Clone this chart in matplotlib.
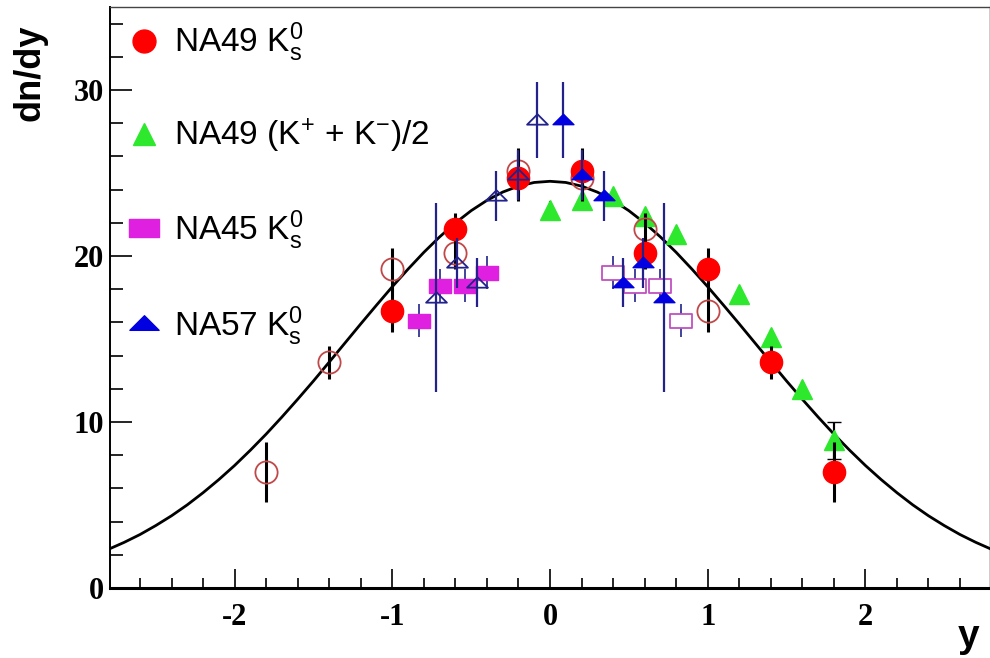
import numpy as np
import matplotlib
matplotlib.use("Agg")
import matplotlib.pyplot as plt
from matplotlib.lines import Line2D
from matplotlib.path import Path
from matplotlib.ticker import MultipleLocator

plt.rcParams["font.family"] = ["Liberation Sans", "DejaVu Sans"]
plt.rcParams["mathtext.fontset"] = "custom"
plt.rcParams["mathtext.rm"] = "Liberation Sans"
plt.rcParams["mathtext.default"] = "regular"
plt.rcParams["axes.unicode_minus"] = False

# NA49 K0s (filled) and reflected points (open)
na49_k0_y = [-1.0, -0.6, -0.2, 0.2, 0.6, 1.0, 1.4, 1.8]
na49_k0_dndy = [16.7, 21.6, 24.7, 25.1, 20.2, 19.2, 13.6, 7.0]
na49_k0_err = [1.3, 1.0, 1.4, 1.4, 1.0, 1.3, 1.0, 1.8]
na49_k0_refl_y = [-1.8, -1.4, -1.0, -0.6, -0.2, 0.2, 0.6, 1.0]
na49_k0_refl_dndy = [7.0, 13.6, 19.2, 20.2, 25.1, 24.7, 21.6, 16.7]
na49_k0_refl_err = [1.8, 1.0, 1.3, 1.0, 1.4, 1.4, 1.0, 1.3]

# NA49 (K+ + K-)/2
na49_kch_y = [0.0, 0.2, 0.4, 0.6, 0.8, 1.2, 1.4, 1.6, 1.8]
na49_kch_dndy = [22.8, 23.4, 23.6, 22.4, 21.3, 17.7, 15.1, 12.0, 8.9]
na49_kch_err = [0.5, 0.5, 0.5, 0.5, 0.5, 0.5, 0.5, 0.5, 1.1]

# NA45 K0s
na45_y = [-0.83, -0.70, -0.54, -0.40]
na45_dndy = [16.1, 18.2, 18.2, 19.0]
na45_err = [1.0, 1.0, 1.0, 1.0]
na45_refl_y = [0.40, 0.54, 0.70, 0.83]
na45_refl_dndy = [19.0, 18.2, 18.2, 16.1]
na45_refl_err = [1.0, 1.0, 1.0, 1.0]

# NA57 K0s
na57_y = [0.08, 0.20, 0.34, 0.46, 0.59, 0.72]
na57_dndy = [28.2, 24.9, 23.6, 18.4, 19.6, 17.5]
na57_err = [2.3, 1.5, 1.5, 1.5, 1.5, 5.7]
na57_refl_y = [-0.72, -0.59, -0.46, -0.34, -0.20, -0.08]
na57_refl_dndy = [17.5, 19.6, 18.4, 23.6, 24.9, 28.2]
na57_refl_err = [5.7, 1.5, 1.5, 1.5, 1.5, 2.3]

# gaussian fit curve
fit_y = [-2.8, -2.7, -2.6, -2.5, -2.4, -2.3, -2.2, -2.1, -2.0, -1.9, -1.8, -1.7,
         -1.6, -1.5, -1.4, -1.3, -1.2, -1.1, -1.0, -0.9, -0.8, -0.7, -0.6, -0.5,
         -0.4, -0.3, -0.2, -0.1, 0.0, 0.1, 0.2, 0.3, 0.4, 0.5, 0.6, 0.7, 0.8,
         0.9, 1.0, 1.1, 1.2, 1.3, 1.4, 1.5, 1.6, 1.7, 1.8, 1.9, 2.0, 2.1, 2.2,
         2.3, 2.4, 2.5, 2.6, 2.7, 2.8]
fit_dndy = [2.33, 2.75, 3.22, 3.76, 4.35, 5.01, 5.74, 6.53, 7.38, 8.30, 9.27, 10.30,
            11.37, 12.47, 13.61, 14.76, 15.91, 17.04, 18.15, 19.21, 20.22, 21.15, 21.99, 22.73,
            23.35, 23.85, 24.21, 24.43, 24.50, 24.43, 24.21, 23.85, 23.35, 22.73, 21.99, 21.15, 20.22,
            19.21, 18.15, 17.04, 15.91, 14.76, 13.61, 12.47, 11.37, 10.30, 9.27, 8.30, 7.38, 6.53, 5.74,
            5.01, 4.35, 3.76, 3.22, 2.75, 2.33]

RED = "#ff0000"
RED_OPEN = "#c04848"
GREEN = "#2ee82e"
MAGENTA = "#e020e0"
MAGENTA_OPEN = "#c050c0"
BLUE = "#0000e0"
NAVY = "#22228a"

rect = Path([(-1, -0.6), (1, -0.6), (1, 0.6), (-1, 0.6), (-1, -0.6)],
            [Path.MOVETO, Path.LINETO, Path.LINETO, Path.LINETO, Path.CLOSEPOLY])
flat_tri = Path([(-1, -0.4), (1, -0.4), (0, 0.6), (-1, -0.4)],
                [Path.MOVETO, Path.LINETO, Path.LINETO, Path.CLOSEPOLY])

fig = plt.figure(figsize=(9.9, 6.58), dpi=100)
ax = fig.add_axes([110 / 990, 70 / 658, 880 / 990, 581 / 658])

ax.plot(fit_y, fit_dndy, color="black", lw=2.0, zorder=2)

ax.errorbar(na49_kch_y, na49_kch_dndy, yerr=na49_kch_err, fmt="^", ms=15,
            color=GREEN, mec=GREEN, ecolor="black", elinewidth=1.5, capsize=0,
            zorder=3)
# only the large green error bar shows its cap
big = [i for i, e in enumerate(na49_kch_err) if e > 1]
ax.errorbar([na49_kch_y[i] for i in big], [na49_kch_dndy[i] for i in big],
            yerr=[na49_kch_err[i] for i in big], fmt="none", ecolor="black",
            elinewidth=1.5, capsize=5, zorder=2.9)
ax.errorbar(na49_k0_refl_y, na49_k0_refl_dndy, yerr=na49_k0_refl_err, fmt="o", ms=16,
            mfc="none", mec=RED_OPEN, mew=1.3, ecolor="black", elinewidth=2.2,
            zorder=4)
ax.errorbar(na49_k0_y, na49_k0_dndy, yerr=na49_k0_err, fmt="o", ms=16,
            color=RED, mec=RED, ecolor="black", elinewidth=2.2, zorder=5)
ax.errorbar(na45_refl_y, na45_refl_dndy, yerr=na45_refl_err, fmt="none",
            ecolor=NAVY, elinewidth=1.2, zorder=6)
ax.plot(na45_refl_y, na45_refl_dndy, ls="none", marker=rect, ms=16,
        mfc="white", mec=MAGENTA_OPEN, mew=1.3, zorder=6)
ax.errorbar(na45_y, na45_dndy, yerr=na45_err, fmt="none",
            ecolor=NAVY, elinewidth=1.2, zorder=6)
ax.plot(na45_y, na45_dndy, ls="none", marker=rect, ms=16,
        mfc=MAGENTA, mec=MAGENTA, zorder=6)
ax.errorbar(na57_refl_y, na57_refl_dndy, yerr=na57_refl_err, fmt="none",
            ecolor=NAVY, elinewidth=1.6, zorder=7)
ax.plot(na57_refl_y, na57_refl_dndy, ls="none", marker=flat_tri, ms=15,
        mfc="none", mec=NAVY, mew=1.3, zorder=7)
ax.errorbar(na57_y, na57_dndy, yerr=na57_err, fmt="none",
            ecolor=NAVY, elinewidth=1.6, zorder=8)
ax.plot(na57_y, na57_dndy, ls="none", marker=flat_tri, ms=15,
        mfc=BLUE, mec=BLUE, zorder=8)

ax.set_xlim(-2.79, 2.79)
ax.set_ylim(0, 35)
ax.xaxis.set_major_locator(MultipleLocator(1))
ax.xaxis.set_minor_locator(MultipleLocator(0.2))
ax.yaxis.set_major_locator(MultipleLocator(10))
ax.yaxis.set_minor_locator(MultipleLocator(2))
ax.tick_params(axis="x", which="major", direction="in", length=14, width=1.2, pad=11)
ax.tick_params(axis="x", which="minor", direction="in", length=7, width=1.2)
ax.tick_params(axis="y", which="major", direction="in", length=16, width=1.2, pad=4)
ax.tick_params(axis="y", which="minor", direction="in", length=9, width=1.2)
for lab in ax.get_xticklabels() + ax.get_yticklabels():
    lab.set_fontfamily("Liberation Serif")
    lab.set_fontweight("bold")
    lab.set_fontsize(22)

ax.spines["bottom"].set_linewidth(2.2)
ax.spines["left"].set_linewidth(1.4)
ax.spines["top"].set_linewidth(1.0)
ax.spines["top"].set_color("#444444")
ax.spines["right"].set_linewidth(1.0)

fig.text(0.03, 0.889, "dn/dy", rotation=90, fontsize=26, fontweight="bold",
         ha="center", va="center")
fig.text(0.978, 0.032, "y", fontsize=28, fontweight="bold", ha="center", va="center")

handles = [
    Line2D([], [], ls="none", marker="o", ms=16.5, color=RED),
    Line2D([], [], ls="none", marker="^", ms=16, color=GREEN),
    Line2D([], [], ls="none", marker=rect, ms=21, color=MAGENTA),
    Line2D([], [], ls="none", marker=flat_tri, ms=21, color=BLUE),
]
labels = ["NA49 $K^0_s$", "NA49 ($K^{+}$ + $K^{-}$)/2", "NA45 $K^0_s$", "NA57 $K^0_s$"]
ax.legend(handles, labels, loc="upper left", bbox_to_anchor=(0.02, 0.976),
          frameon=False, fontsize=24, labelspacing=1.58, handlelength=1.0,
          handletextpad=0.4, borderpad=0, borderaxespad=0)

fig.savefig("out.png", dpi=100)
